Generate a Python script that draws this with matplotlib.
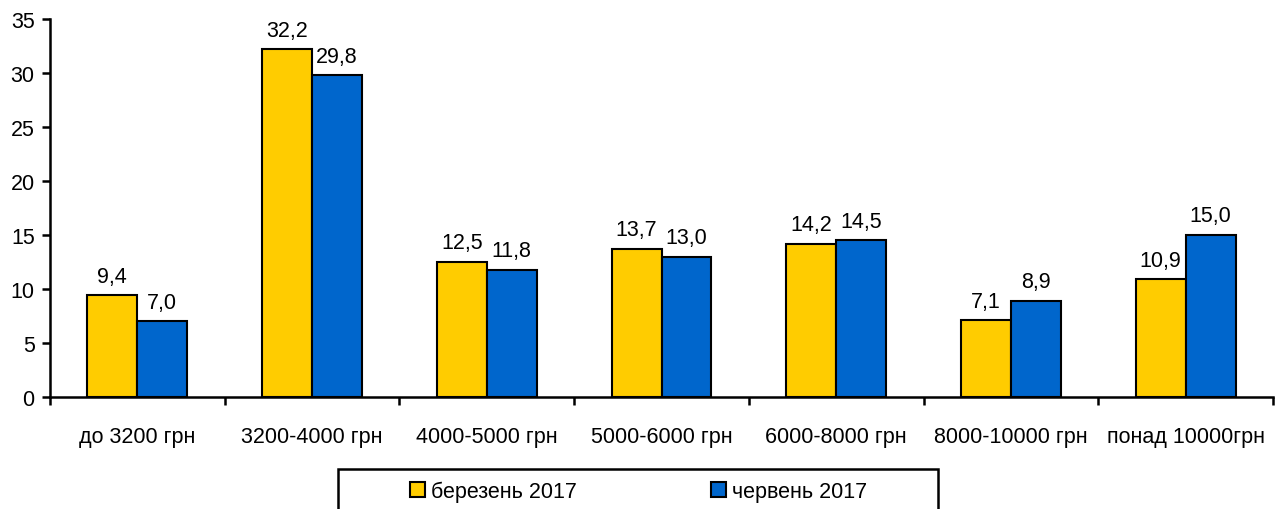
import matplotlib.pyplot as plt
from matplotlib.patches import Rectangle
import numpy as np

plt.rcParams['font.family'] = ['Liberation Sans', 'DejaVu Sans']

categories = ["до 3200 грн", "3200-4000 грн", "4000-5000 грн", "5000-6000 грн",
              "6000-8000 грн", "8000-10000 грн", "понад 10000грн"]
march = [9.4, 32.2, 12.5, 13.7, 14.2, 7.1, 10.9]
june = [7.0, 29.8, 11.8, 13.0, 14.5, 8.9, 15.0]
series_names = ["березень 2017", "червень 2017"]
colors = ["#FFCC00", "#0066CC"]

fig = plt.figure(figsize=(12.75, 5.1), dpi=100)
ax = fig.add_axes([50 / 1275, 1 - 398 / 510, 1223 / 1275, 378 / 510])

x = np.arange(len(categories))
w = 0.286
fs = 15.5

bars = []
for i, (vals, name) in enumerate(zip([march, june], series_names)):
    pos = x + (i - 0.5) * w
    b = ax.bar(pos, vals, w, color=colors[i], edgecolor="black", linewidth=1.5, label=name)
    bars.append(b)
    for px, v in zip(pos, vals):
        ax.text(px, v + 0.8, f"{v:.1f}".replace(".", ","), ha="center", va="bottom", fontsize=fs)

ax.set_xlim(-0.5, len(categories) - 0.5)
ax.set_ylim(0, 35)
ax.set_yticks(range(0, 36, 5))
ax.set_xticks(x)
ax.set_xticklabels(categories, fontsize=fs)
ax.set_xticks(np.arange(-0.5, len(categories), 1), minor=True)
ax.tick_params(axis="x", which="major", length=0, pad=21)
ax.tick_params(axis="x", which="minor", length=6, width=1.8, direction="out")
ax.tick_params(axis="y", length=6, width=1.8, direction="out", labelsize=fs, pad=5)

for s in ["top", "right"]:
    ax.spines[s].set_visible(False)
for s in ["left", "bottom"]:
    ax.spines[s].set_linewidth(1.8)

fig.patches.append(Rectangle((338 / 1275, -0.1), 600 / 1275, 0.1 + 1 - 470 / 510,
                             transform=fig.transFigure, fill=False, edgecolor="black",
                             linewidth=1.8))
fig.legend(handles=bars, labels=series_names, loc="center left",
           bbox_to_anchor=(399 / 1275, 1 - 492 / 510), ncol=2, frameon=False,
           fontsize=fs, handlelength=0.7, handleheight=0.7, handletextpad=0.3,
           columnspacing=6.2, borderpad=0)

fig.savefig("out.png")
